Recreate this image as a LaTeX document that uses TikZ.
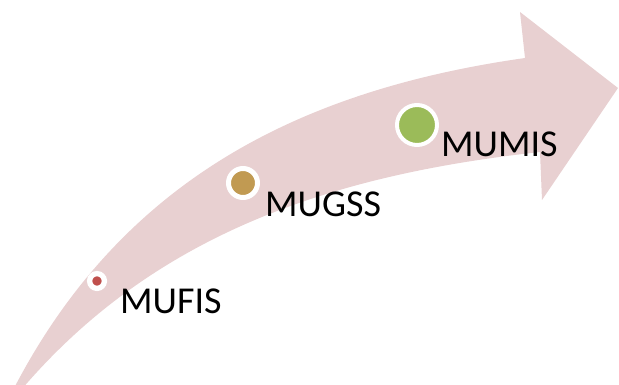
\documentclass[tikz,border=0pt]{standalone}
\usepackage{fontspec}
\setmainfont{Carlito}
\usepackage{tikz}
\usetikzlibrary{positioning}
\definecolor{arrowpink}{RGB}{232,208,209}
\definecolor{dotred}{RGB}{192,80,77}
\definecolor{dotgold}{RGB}{193,154,82}
\definecolor{dotgreen}{RGB}{155,187,89}

\begin{document}
\begin{tikzpicture}[x=1pt,y=-1pt,
    dot/.style={circle,draw=white,inner sep=0pt},
    lbl/.style={anchor=base west,inner sep=0pt,font=\fontsize{38}{40}\selectfont}]
    \useasboundingbox (0,0) rectangle (619,385);
    % big curved arrow
    \fill[arrowpink] (525,58) -- (520,12) -- (618,88) -- (542,200) -- (540,152)
      .. controls (330,175) and (150,235) .. (16,396) -- (11,394)
      .. controls (120,180) and (300,90) .. cycle;
    % stages
    \node[dot,fill=dotred,line width=5.3pt,minimum size=14.8pt] (fis) at (97,281) {};
    \node[dot,fill=dotgold,line width=5pt,minimum size=29pt] (gss) at (243,183) {};
    \node[dot,fill=dotgreen,line width=4pt,minimum size=40pt] (mis) at (417,125) {};
    \node[lbl] (fislbl) at (120,313) {MUFIS};
    \node[lbl] (gsslbl) at (265,217) {MUGSS};
    \node[lbl] (mislbl) at (441,157) {MUMIS};
\end{tikzpicture}
\end{document}
